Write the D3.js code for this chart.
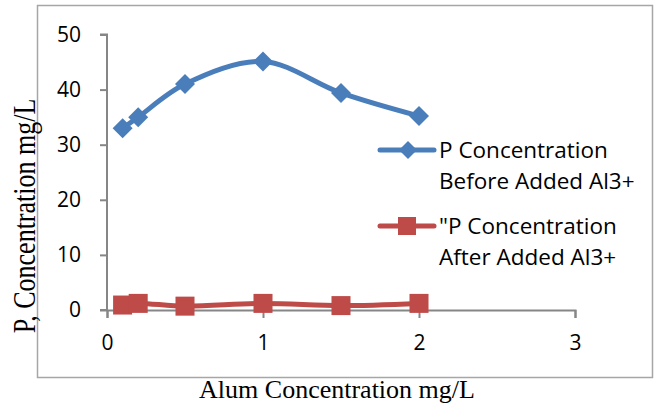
<!DOCTYPE html>
<html><head><meta charset="utf-8">
<script src="https://cdn.jsdelivr.net/npm/d3@7"></script>
<style>body{margin:0;background:#fff}svg{display:block}</style>
</head><body>
<script>
const xValues = [0.1, 0.2, 0.5, 1, 1.5, 2];
const beforeValues = [33.0, 35.0, 41.0, 45.1, 39.4, 35.2];
const afterValues = [0.9, 1.2, 0.7, 1.2, 0.8, 1.2];
const xTicks = [0, 1, 2, 3];
const yTicks = [0, 10, 20, 30, 40, 50];
const seriesNames = [["P Concentration", "Before Added Al3+"], ["\"P Concentration", "After Added Al3+"]];
const colors = ["#4a7ebb", "#be4b48"];

const W = 655, H = 405;
const svg = d3.select("body").append("svg").attr("width", W).attr("height", H);
svg.append("rect").attr("x", 37.5).attr("y", 5.5).attr("width", 615).attr("height", 372)
  .attr("fill", "none").attr("stroke", "#a6a6a6").attr("stroke-width", 1.5);

const x = d3.scaleLinear().domain([0, 3]).range([107, 575]);
const y = d3.scaleLinear().domain([0, 50]).range([310, 34.5]);
const axisColor = "#868686";
const tickFont = "'Open Sans', sans-serif";

const gy = svg.append("g").attr("transform", "translate(107,0)")
  .call(d3.axisLeft(y).tickValues(yTicks).tickSize(7).tickPadding(19).tickFormat(d3.format("d")));
const gx = svg.append("g").attr("transform", "translate(0,310)")
  .call(d3.axisBottom(x).tickValues(xTicks).tickSize(8).tickPadding(17).tickFormat(d3.format("d")));
[gx, gy].forEach(g => {
  g.select(".domain").attr("stroke", axisColor).attr("stroke-width", 2);
  g.selectAll(".tick line").attr("stroke", axisColor).attr("stroke-width", 2);
  g.selectAll(".tick text").attr("fill", "#000").style("font-family", tickFont).style("font-size", "21px");
});
gy.select(".domain").attr("d", "M-7,34.5H0V310H-7");

const line = d3.line().x((d, i) => x(xValues[i])).y(d => y(d)).curve(d3.curveCatmullRom.alpha(0.5));

svg.append("path").datum(beforeValues).attr("d", line).attr("fill", "none")
  .attr("stroke", colors[0]).attr("stroke-width", 5).attr("stroke-linecap", "round");
svg.append("path").datum(afterValues).attr("d", line).attr("fill", "none")
  .attr("stroke", colors[1]).attr("stroke-width", 5).attr("stroke-linecap", "round");

const diamond = s => `M0,${-s}L${s},0L0,${s}L${-s},0Z`;
svg.selectAll(".d").data(beforeValues).join("path")
  .attr("transform", (d, i) => `translate(${x(xValues[i])},${y(d)})`)
  .attr("d", diamond(10)).attr("fill", colors[0]);
svg.selectAll(".s").data(afterValues).join("rect")
  .attr("x", (d, i) => x(xValues[i]) - 9.5).attr("y", d => y(d) - 9.5)
  .attr("width", 19).attr("height", 19).attr("fill", colors[1]);

// legend
const legY = [150, 226];
seriesNames.forEach((names, k) => {
  const g = svg.append("g");
  g.append("line").attr("x1", 380).attr("x2", 434).attr("y1", legY[k]).attr("y2", legY[k])
    .attr("stroke", colors[k]).attr("stroke-width", 5).attr("stroke-linecap", "round");
  if (k === 0) g.append("path").attr("transform", `translate(408,${legY[k]})`).attr("d", diamond(9)).attr("fill", colors[0]);
  else g.append("rect").attr("x", 398).attr("y", legY[k] - 9).attr("width", 18).attr("height", 18).attr("fill", colors[1]);
  names.forEach((t, j) => {
    g.append("text").attr("x", 439).attr("y", legY[k] + 8 + j * 31).text(t)
      .style("font-family", tickFont).style("font-size", "22.5px").attr("fill", "#000");
  });
});

svg.append("text").attr("transform", "translate(35,216) rotate(-90) scale(1,1.25)").attr("text-anchor", "middle")
  .style("font-family", "'Liberation Serif', serif").style("font-size", "26px").text("P, Concentration mg/L");
svg.append("text").attr("x", 337).attr("y", 398).attr("text-anchor", "middle")
  .style("font-family", "'Liberation Serif', serif").style("font-size", "26px").text("Alum Concentration mg/L");
</script>
</body></html>
